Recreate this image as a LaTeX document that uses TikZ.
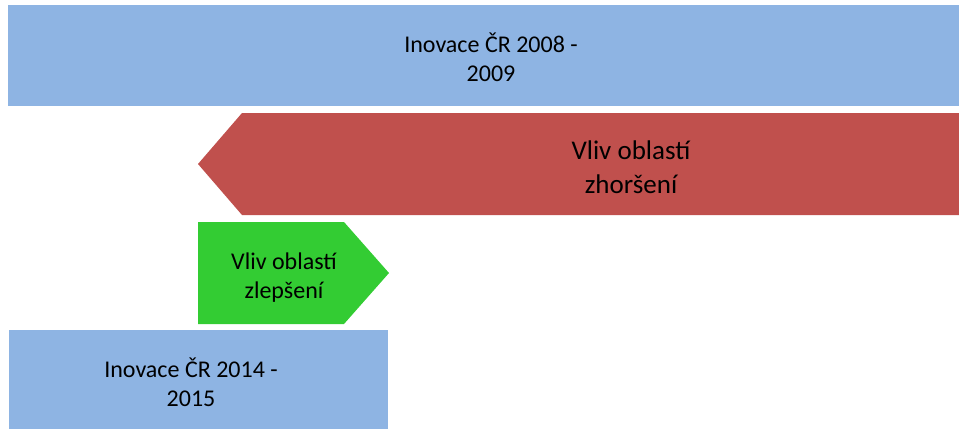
\documentclass[tikz,border=0pt]{standalone}
\usepackage{fontspec}
\setmainfont{Carlito}
\usetikzlibrary{positioning}
\definecolor{boxblue}{HTML}{8EB4E3}
\definecolor{arrred}{HTML}{C0504D}
\definecolor{arrgreen}{HTML}{33CC33}
\tikzset{
    mybox/.style = {fill=boxblue, draw=none},
    myarrr/.style = {fill=arrred, draw=none},
    myarrg/.style = {fill=arrgreen, draw=none},
    mytext/.style = {align=center, text=black, inner sep=0pt, font=\fontsize{24}{29}\selectfont},
    mytextb/.style = {align=center, text=black, inner sep=0pt, font=\fontsize{27}{34}\selectfont}
}
\begin{document}
\begin{tikzpicture}[x=1pt, y=-1pt]
  \useasboundingbox (0,0) rectangle (959,429);
  % blue boxes
  \fill[mybox] (8,5) rectangle (959,106);
  \fill[mybox] (9,330) rectangle (388,429);
  % red arrow pointing left
  \fill[myarrr] (198,164) -- (242,113) -- (959,113) -- (959,215) -- (242,215) -- cycle;
  % green arrow pointing right
  \fill[myarrg] (198,222) -- (344,222) -- (389,273) -- (344,324) -- (198,324) -- cycle;
  % texts
  \node[mytext] (inov1) at (491,57) {Inovace ČR 2008 -\\2009};
  \node[mytextb] (zhor) at (631,167) {Vliv oblastí\\zhoršení};
  \node[mytext] (zlep) at (284,278) {Vliv oblastí\\zlepšení};
  \node[mytext] (inov2) at (191,382) {Inovace ČR 2014 -\\2015};
\end{tikzpicture}
\end{document}
